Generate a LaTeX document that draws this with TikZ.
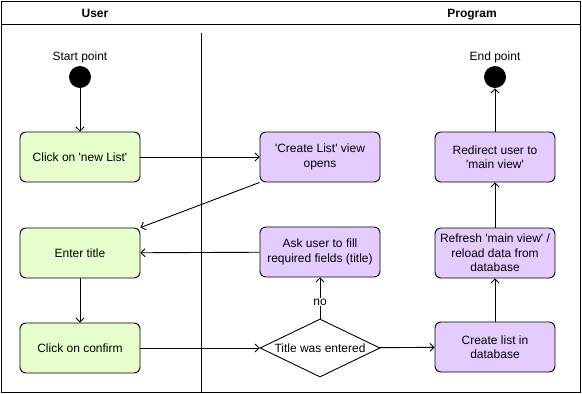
\documentclass[tikz,border=0pt]{standalone}
\usepackage{fontspec}
\setmainfont{Liberation Sans}
\usetikzlibrary{shapes.geometric}
\usetikzlibrary{arrows.meta}
\definecolor{usergreen}{HTML}{E6FFCC}
\definecolor{progviolet}{HTML}{E5CCFF}
\newcommand{\q}{\textquotesingle}
\tikzset{
	stepnode/.style = {
		align=center,
		rectangle,
		rounded corners=6pt,
		draw=black,
		line width=0.9pt,
		minimum width=120pt,
		minimum height=50pt,
		inner sep=1pt,
		font=\fontsize{12}{14.5}\selectfont
	},
	node_user/.style = {
		stepnode,
		fill=usergreen
	},
	node_prog/.style = {
		stepnode,
		fill=progviolet
	},
	node_dot/.style = {
		circle,
		fill=black,
		minimum size=22pt,
		inner sep=0pt
	},
	node_choice/.style = {
		diamond,
		aspect=2.07,
		draw=black,
		line width=0.9pt,
		fill=white,
		inner sep=0pt,
		minimum width=120pt,
		minimum height=58pt,
		font=\fontsize{12}{14}\selectfont
	},
	label_txt/.style = {
		font=\fontsize{12}{14}\selectfont
	},
	lane_head/.style = {
		anchor=base,
		font=\fontsize{12}{14}\selectfont\bfseries
	},
}

\begin{document}
\begin{tikzpicture}[x=1pt,y=-1pt,->,>={Straight Barb[length=4pt,width=8pt]},line width=0.9pt]
\useasboundingbox (0,0) rectangle (582,394);
% swimlanes
\draw[-] (1,1) rectangle (580,392);
\draw[-] (1,24) -- (580,24);
\draw[-] (201,33) -- (201,392);
\node[lane_head] (h_user) at (95,17) {User};
\node[lane_head] (h_prog) at (472,17) {Program};

% user lane
\node[node_dot] (start) at (80,77) {};
\node[label_txt] (start_lbl) at (80,57) {Start point};
\node[node_user] (newlist) at (80,157) {Click on \q new List\q};
\node[node_user] (title) at (80,253) {Enter title};
\node[node_user] (confirm) at (80,348) {Click on confirm};

% program lane
\node[node_prog] (createview) at (320,157) {\q Create List\q{} view\\opens};
\node[node_prog] (askuser) at (320,252) {Ask user to fill\\required fields (title)};
\node[node_choice] (entered) at (320,348) {Title was entered};
\node[node_prog] (createlist) at (495,347) {Create list in\\database};
\node[node_prog] (refresh) at (495,253) {Refresh \q main view\q{} /\\reload data from\\database};
\node[node_prog] (redirect) at (495,157) {Redirect user to\\\q main view\q};
\node[node_dot] (end) at (495,77) {};
\node[label_txt] (end_lbl) at (495,57) {End point};

% flow
\draw (start) -- (newlist);
\draw (newlist) -- (createview);
\draw (createview.south west) -- (title.north east);
\draw (title) -- (confirm);
\draw (confirm) -- (entered);
\draw (entered) -- node[label_txt, pos=0.4, fill=white, inner sep=1pt] {no} (askuser);
\draw (askuser) -- (title);
\draw (entered) -- (createlist);
\draw (createlist) -- (refresh);
\draw (refresh) -- (redirect);
\draw (redirect) -- (end);
\end{tikzpicture}
\end{document}
